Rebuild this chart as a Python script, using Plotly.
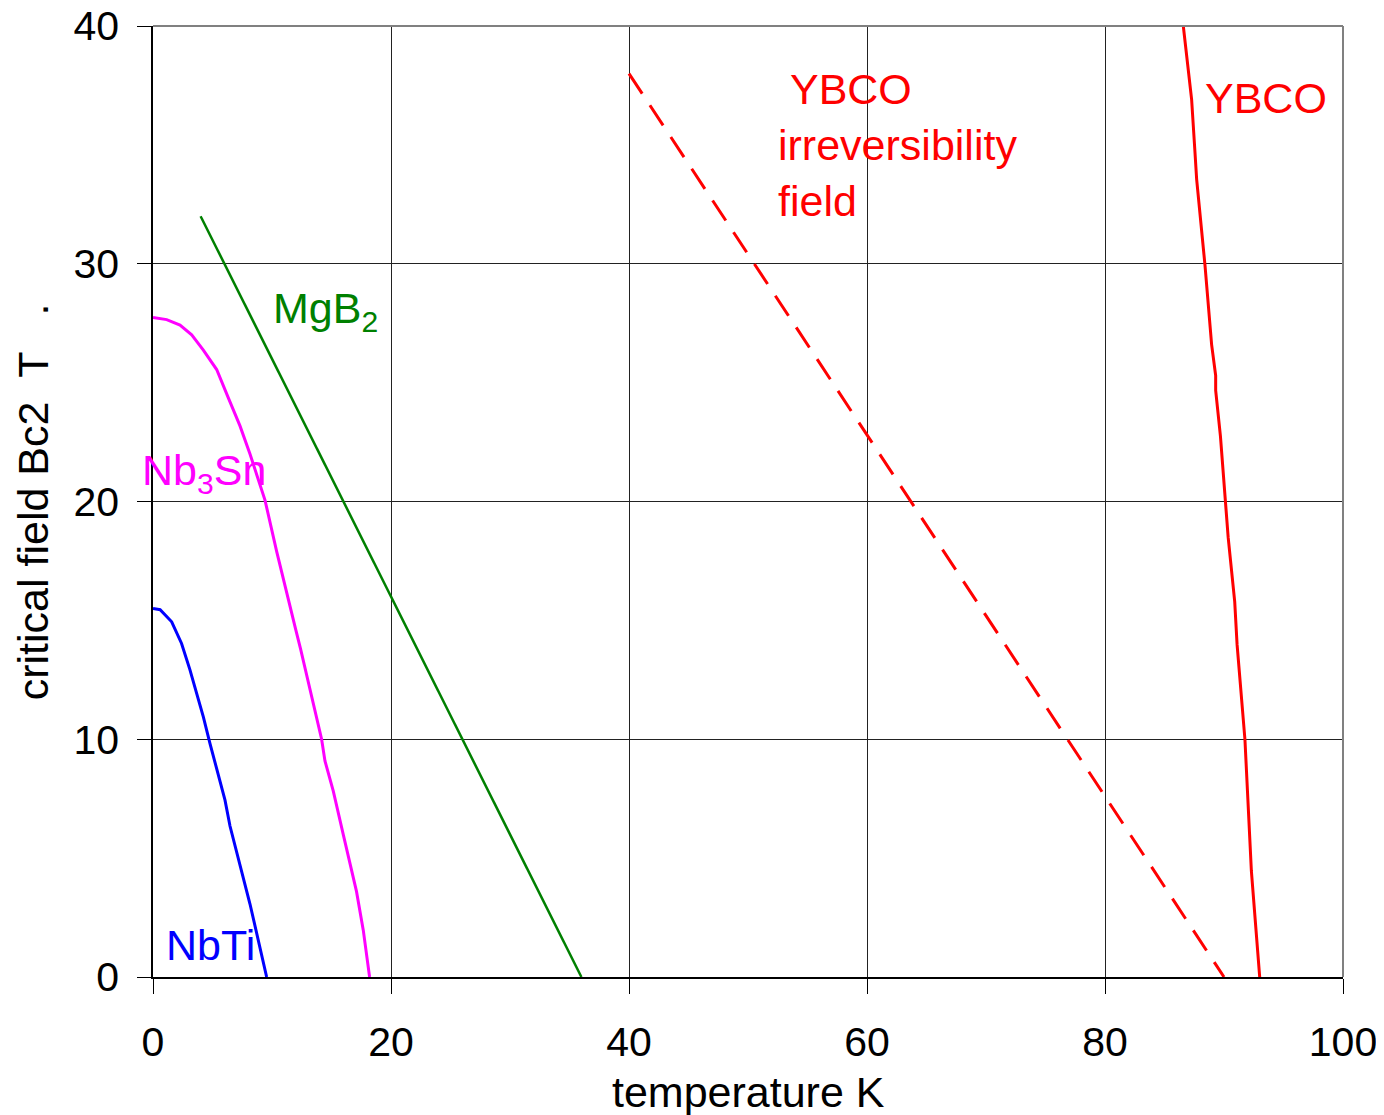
import plotly.graph_objects as go

# Data (temperature K, critical field T)
nbti_t = [0.0, 0.6, 1.57, 2.4, 3.1, 3.95, 4.23, 4.79, 6.05, 6.47, 8.15, 9.55]
nbti_b = [15.5, 15.45, 14.94, 14.03, 12.93, 11.48, 10.94, 9.82, 7.44, 6.35, 3.07, 0.0]

nb3sn_t = [0.0, 1.15, 2.27, 3.25, 4.23, 5.35, 6.33, 7.31, 8.15, 9.41, 10.4, 11.1, 12.0,
           12.4, 13.58, 14.17, 14.45, 15.15, 16.0, 17.1, 17.67, 18.2]
nb3sn_b = [27.74, 27.65, 27.42, 27.01, 26.37, 25.55, 24.36, 23.18, 22.0, 20.06, 17.88, 16.4,
           14.6, 13.8, 11.28, 10.0, 9.09, 7.82, 5.97, 3.6, 1.97, 0.0]

mgb2_t = [4.0, 36.0]
mgb2_b = [32.0, 0.0]

ybco_irr_t = [40.0, 90.0]
ybco_irr_b = [38.0, 0.0]

ybco_t = [86.58, 87.28, 87.56, 87.7, 88.4, 88.96, 89.3, 89.3, 89.7, 90.15, 90.35, 90.9,
          91.1, 91.76, 92.3, 93.0]
ybco_b = [40.0, 36.9, 34.7, 33.56, 29.95, 26.6, 25.3, 24.67, 22.75, 19.9, 18.49, 15.79,
          13.98, 9.99, 4.46, 0.0]

x_ticks = [0, 20, 40, 60, 80, 100]
y_ticks = [0, 10, 20, 30, 40]

FONT = "Liberation Sans, Arial, sans-serif"

fig = go.Figure()
fig.add_trace(go.Scatter(x=nbti_t, y=nbti_b, mode="lines",
                         line=dict(color="#0000FF", width=3), name="NbTi"))
fig.add_trace(go.Scatter(x=nb3sn_t, y=nb3sn_b, mode="lines",
                         line=dict(color="#FF00FF", width=3), name="Nb3Sn"))
fig.add_trace(go.Scatter(x=mgb2_t, y=mgb2_b, mode="lines",
                         line=dict(color="#008000", width=2.5), name="MgB2"))
fig.add_trace(go.Scatter(x=ybco_irr_t, y=ybco_irr_b, mode="lines",
                         line=dict(color="#FF0000", width=3, dash="24px,14px"),
                         name="YBCO irreversibility field"))
fig.add_trace(go.Scatter(x=ybco_t, y=ybco_b, mode="lines",
                         line=dict(color="#FF0000", width=3), name="YBCO"))

ann_font = 43
annotations = [
    dict(x=52.35, y=35.0, text="\u00a0YBCO<br>irreversibility<br>field", xanchor="left",
         yanchor="middle", align="left", font=dict(color="#FF0000", size=ann_font)),
    dict(x=93.5, y=36.97, text="YBCO", xanchor="center", yanchor="middle",
         font=dict(color="#FF0000", size=ann_font)),
    dict(x=9.9, y=28.0, text="MgB<sub>2</sub>", xanchor="left", yanchor="middle",
         font=dict(color="#008000", size=ann_font)),
    dict(xref="paper", x=-0.011, y=21.2, text="Nb<sub>3</sub>Sn", xanchor="left",
         yanchor="middle", font=dict(color="#FF00FF", size=ann_font)),
    dict(x=0.9, y=1.35, text="NbTi", xanchor="left", yanchor="middle",
         font=dict(color="#0000FF", size=ann_font)),
    dict(xref="paper", yref="paper", x=-0.101, y=0.5,
         text="critical field Bc2\u00a0\u00a0T\u00a0\u00a0\u00a0.", textangle=-90,
         xanchor="center", yanchor="middle",
         font=dict(color="black", size=ann_font)),
    dict(xref="paper", yref="paper", x=0.5, y=-0.121, text="temperature K",
         xanchor="center", yanchor="middle",
         font=dict(color="black", size=ann_font)),
]
for a in annotations:
    a.setdefault("showarrow", False)
    a.setdefault("xref", "x")
    a.setdefault("yref", "y")

# page body has an 8px margin; compensate so the plot area lands at x 153-1343, y 26-977
fig.update_layout(
    width=1376, height=1107,
    margin=dict(l=145, r=41, t=18, b=138, pad=0, autoexpand=False),
    paper_bgcolor="white", plot_bgcolor="white",
    showlegend=False,
    font=dict(family=FONT, color="black", size=41),
    annotations=annotations,
    shapes=[
        dict(type="line", xref="paper", yref="paper", x0=0, x1=1, y0=1, y1=1,
             line=dict(color="#808080", width=2), layer="above"),
        dict(type="line", xref="paper", yref="paper", x0=1, x1=1, y0=0, y1=1,
             line=dict(color="#808080", width=2), layer="above"),
    ],
)
fig.update_xaxes(range=[0, 100], tickvals=x_ticks, ticktext=[str(v) for v in x_ticks],
                 showgrid=True, gridcolor="#222222", gridwidth=1, zeroline=False,
                 showline=True, linecolor="black", linewidth=1.5, automargin=False,
                 ticks="outside", ticklen=15, tickcolor="black",
                 ticklabelstandoff=13, ticklabeloverflow="allow", tickfont=dict(size=41))
fig.update_yaxes(range=[0, 40], tickvals=y_ticks, ticktext=[str(v) for v in y_ticks],
                 showgrid=True, gridcolor="#222222", gridwidth=1, zeroline=False,
                 showline=True, linecolor="black", linewidth=1.5, automargin=False,
                 ticks="outside", ticklen=14, tickcolor="black",
                 ticklabelstandoff=10, ticklabeloverflow="allow", tickfont=dict(size=41))

fig.write_html("out.html")
